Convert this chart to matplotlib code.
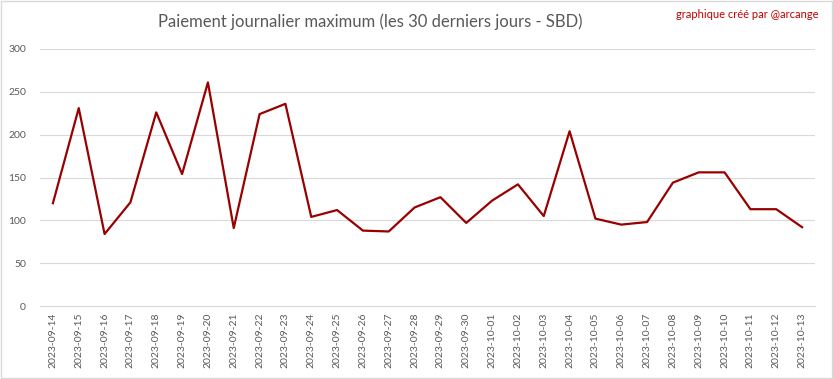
import matplotlib.pyplot as plt
from matplotlib.patches import Rectangle

dates = ["2023-09-14", "2023-09-15", "2023-09-16", "2023-09-17", "2023-09-18",
         "2023-09-19", "2023-09-20", "2023-09-21", "2023-09-22", "2023-09-23",
         "2023-09-24", "2023-09-25", "2023-09-26", "2023-09-27", "2023-09-28",
         "2023-09-29", "2023-09-30", "2023-10-01", "2023-10-02", "2023-10-03",
         "2023-10-04", "2023-10-05", "2023-10-06", "2023-10-07", "2023-10-08",
         "2023-10-09", "2023-10-10", "2023-10-11", "2023-10-12", "2023-10-13"]
payouts = [120, 231, 84, 121, 226, 154, 261, 91, 224, 236,
           104, 112, 88, 87, 115, 127, 97, 123, 142, 105,
           204, 102, 95, 98, 144, 156, 156, 113, 113, 92]
yticks = [0, 50, 100, 150, 200, 250, 300]

plt.rcParams['font.family'] = ['Lato', 'DejaVu Sans']

fig = plt.figure(figsize=(8.33, 3.79), dpi=100)
ax = fig.add_axes([40 / 833, 1 - 306 / 379, 775 / 833, 257 / 379])

x = list(range(len(dates)))
ax.plot(x, payouts, color="#990000", linewidth=1.6)

ax.set_xlim(-0.5, len(dates) - 0.5)
ax.set_ylim(0, 300)
ax.set_yticks(yticks)
ax.set_xticks(x)
ax.set_xticklabels(dates, rotation=90)
ax.tick_params(axis="both", length=0, labelsize=7.5, labelcolor="#595959")
ax.tick_params(axis="y", pad=10)
ax.tick_params(axis="x", pad=5)
ax.grid(axis="y", color="#D9D9D9", linewidth=0.8)
ax.set_axisbelow(True)
for side in ["top", "right", "left"]:
    ax.spines[side].set_visible(False)
ax.spines["bottom"].set_color("#D9D9D9")

fig.text(370 / 833, 1 - 22 / 379, "Paiement journalier maximum (les 30 derniers jours - SBD)",
         ha="center", va="center", fontsize=12, color="#595959")
fig.text(818 / 833, 1 - 15 / 379, "graphique créé par @arcange",
         ha="right", va="center", fontsize=8, color="#C00000")

fig.patches.append(Rectangle((0.001, 0.002), 0.998, 0.996, transform=fig.transFigure,
                             fill=False, edgecolor="#D9D9D9", linewidth=1))

fig.savefig("out.png", dpi=100)
